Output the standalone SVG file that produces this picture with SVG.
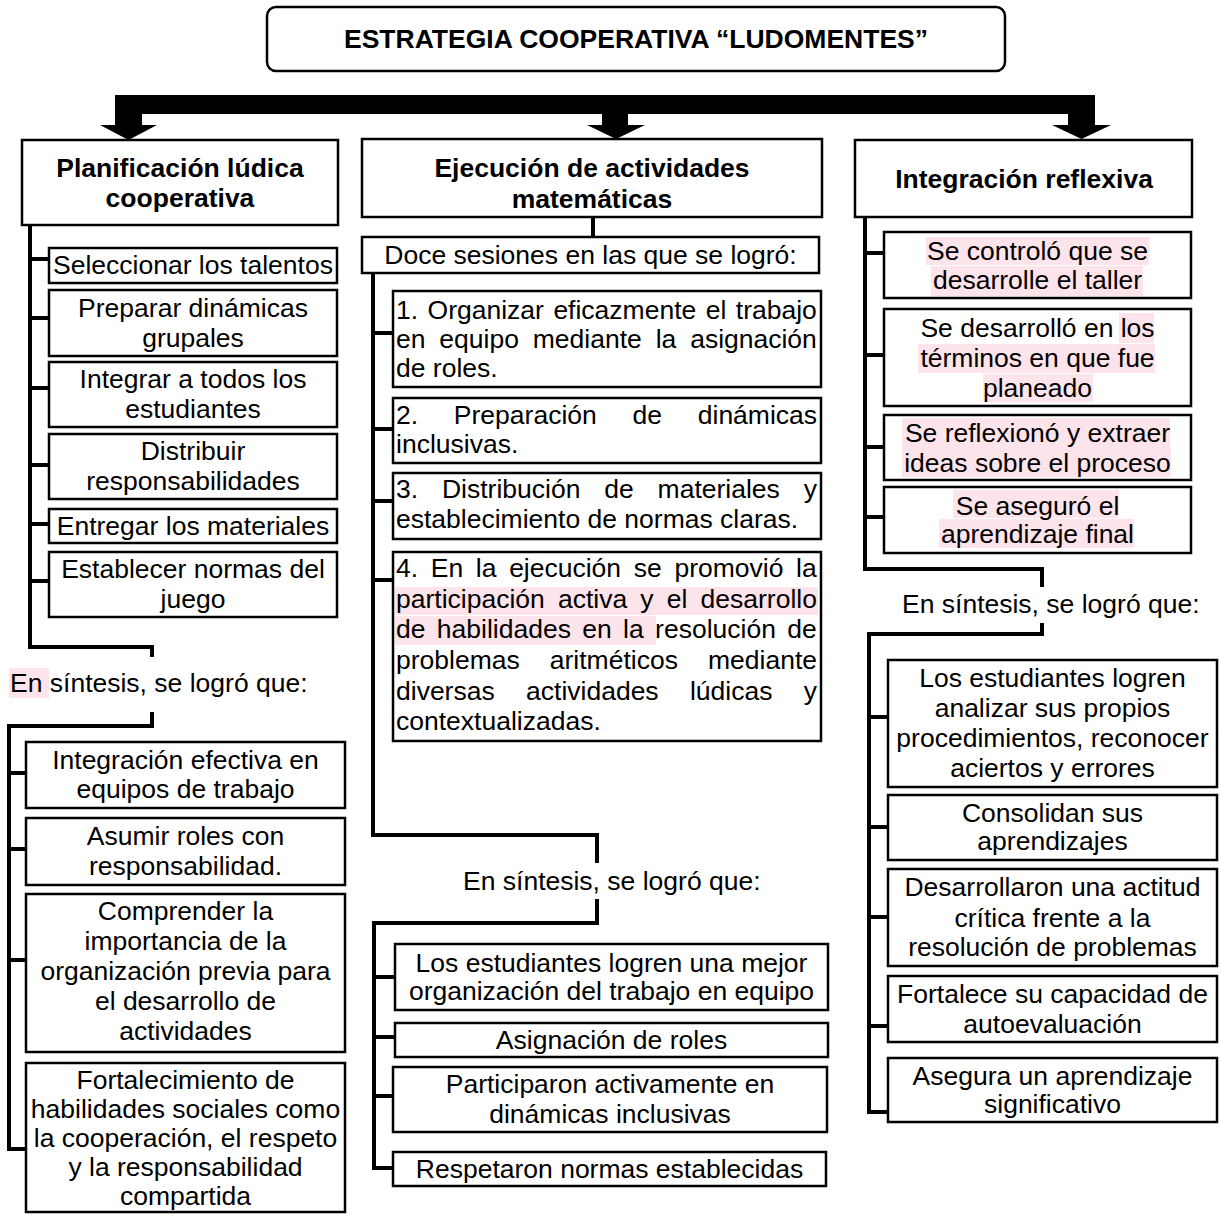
<svg xmlns="http://www.w3.org/2000/svg" width="1221" height="1214" viewBox="0 0 1221 1214">
<style>
.box{fill:#fff;stroke:#000;stroke-width:2.5}
.t{font-family:"Liberation Sans",Arial,Helvetica,sans-serif;font-size:26.5px;fill:#000}
.c{text-anchor:middle}
.b{font-weight:bold}
.ln{stroke:#000;stroke-width:4;fill:none;stroke-linejoin:miter}
.hl{fill:#fde3ea}
</style>
<rect x="0" y="0" width="1221" height="1214" fill="#fff"/>

<g id="connectors">
  <rect x="115" y="95" width="980" height="19" fill="#000"/>
  <rect x="115" y="95" width="27" height="31" fill="#000"/>
  <rect x="602" y="110" width="26" height="16" fill="#000"/>
  <rect x="1068" y="95" width="27" height="31" fill="#000"/>
  <polygon points="100,125 157,125 128.5,140" fill="#000"/>
  <polygon points="587,125 645,125 616,139" fill="#000"/>
  <polygon points="1052,125 1111,125 1081.5,139" fill="#000"/>
  <!-- column 1 -->
  <path class="ln" d="M30 225 V647 H152 V657"/>
  <path class="ln" d="M30 259 H49 M30 318 H49 M30 388 H49 M30 465 H49 M30 524 H49 M30 581 H49"/>
  <path class="ln" d="M152 712 V726 H9 V1149 H26"/>
  <path class="ln" d="M9 773 H26 M9 849 H26 M9 960 H26"/>
  <!-- column 2 -->
  <path class="ln" d="M593 217 V237"/>
  <path class="ln" d="M373 273 V835 H597 V863"/>
  <path class="ln" d="M373 333 H393 M373 429 H393 M373 501 H393 M373 580 H393"/>
  <path class="ln" d="M597 899 V923 H374 V1168 H393"/>
  <path class="ln" d="M374 977 H395 M374 1037 H395 M374 1096 H393"/>
  <!-- column 3 -->
  <path class="ln" d="M865 217 V569 H1042 V587"/>
  <path class="ln" d="M865 253 H884 M865 355 H884 M865 447 H884 M865 517 H884"/>
  <path class="ln" d="M1042 623 V634 H869 V1112 H888"/>
  <path class="ln" d="M869 717 H888 M869 827 H888 M869 917 H888 M869 1026 H888"/>
</g>

<g id="title">
  <rect class="box" x="267" y="7" width="738" height="64" rx="9"/>
  <text class="t c b" x="636" y="48">ESTRATEGIA COOPERATIVA “LUDOMENTES”</text>
</g>

<!-- Column 1 -->
<g id="planificacion">
  <rect class="box" x="22" y="140" width="316" height="85"/>
  <text class="t c b"><tspan x="180" y="177">Planificación lúdica</tspan><tspan x="180" y="207">cooperativa</tspan></text>
</g>
<g id="p1"><rect class="box" x="49" y="248" width="288" height="35"/><text class="t c" x="193" y="274">Seleccionar los talentos</text></g>
<g id="p2"><rect class="box" x="49" y="290" width="288" height="66"/><text class="t c"><tspan x="193" y="317">Preparar dinámicas</tspan><tspan x="193" y="347">grupales</tspan></text></g>
<g id="p3"><rect class="box" x="49" y="362" width="288" height="65"/><text class="t c"><tspan x="193" y="388">Integrar a todos los</tspan><tspan x="193" y="418">estudiantes</tspan></text></g>
<g id="p4"><rect class="box" x="49" y="434" width="288" height="65"/><text class="t c"><tspan x="193" y="460">Distribuir</tspan><tspan x="193" y="490">responsabilidades</tspan></text></g>
<g id="p5"><rect class="box" x="49" y="509" width="288" height="34"/><text class="t c" x="193" y="535">Entregar los materiales</text></g>
<g id="p6"><rect class="box" x="49" y="552" width="288" height="65"/><text class="t c"><tspan x="193" y="578">Establecer normas del</tspan><tspan x="193" y="608">juego</tspan></text></g>
<g id="sintesis1">
  <rect class="hl" x="9" y="668" width="40" height="30"/>
  <text class="t" x="10" y="692">En síntesis, se logró que:</text>
</g>
<g id="q1"><rect class="box" x="26" y="742" width="319" height="66"/><text class="t c"><tspan x="185.5" y="769">Integración efectiva en</tspan><tspan x="185.5" y="798">equipos de trabajo</tspan></text></g>
<g id="q2"><rect class="box" x="26" y="818" width="319" height="67"/><text class="t c"><tspan x="185.5" y="845">Asumir roles con</tspan><tspan x="185.5" y="875">responsabilidad.</tspan></text></g>
<g id="q3"><rect class="box" x="26" y="894" width="319" height="158"/><text class="t c"><tspan x="185.5" y="920">Comprender la</tspan><tspan x="185.5" y="950">importancia de la</tspan><tspan x="185.5" y="980">organización previa para</tspan><tspan x="185.5" y="1010">el desarrollo de</tspan><tspan x="185.5" y="1040">actividades</tspan></text></g>
<g id="q4"><rect class="box" x="26" y="1063" width="319" height="149"/><text class="t c"><tspan x="185.5" y="1089">Fortalecimiento de</tspan><tspan x="185.5" y="1118">habilidades sociales como</tspan><tspan x="185.5" y="1147">la cooperación, el respeto</tspan><tspan x="185.5" y="1176">y la responsabilidad</tspan><tspan x="185.5" y="1205">compartida</tspan></text></g>

<!-- Column 2 -->
<g id="ejecucion">
  <rect class="box" x="362" y="139" width="460" height="78"/>
  <text class="t c b"><tspan x="592" y="177">Ejecución de actividades</tspan><tspan x="592" y="208">matemáticas</tspan></text>
</g>
<g id="doce"><rect class="box" x="362" y="237" width="457" height="36"/><text class="t c" x="590.5" y="264">Doce sesiones en las que se logró:</text></g>
<g id="e1"><rect class="box" x="393" y="291" width="428" height="96"/>
  <text class="t" x="396" y="319" style="word-spacing:2.1px">1. Organizar eficazmente el trabajo</text>
  <text class="t" x="396" y="348" style="word-spacing:6.5px">en equipo mediante la asignación</text>
  <text class="t" x="396" y="377">de roles.</text>
</g>
<g id="e2"><rect class="box" x="393" y="398" width="428" height="65"/>
  <text class="t" x="396" y="424" style="word-spacing:28.4px">2. Preparación de dinámicas</text>
  <text class="t" x="396" y="453">inclusivas.</text>
</g>
<g id="e3"><rect class="box" x="393" y="473" width="428" height="66"/>
  <text class="t" x="396" y="498" style="word-spacing:16.5px">3. Distribución de materiales y</text>
  <text class="t" x="396" y="528">establecimiento de normas claras.</text>
</g>
<g id="e4"><rect class="box" x="393" y="552" width="428" height="189"/>
  <rect class="hl" x="395" y="587" width="423" height="28"/>
  <rect class="hl" x="395" y="616" width="261" height="29"/>
  <text class="t" x="396" y="577" style="word-spacing:5.3px">4. En la ejecución se promovió la</text>
  <text class="t" x="396" y="608" style="word-spacing:5.8px">participación activa y el desarrollo</text>
  <text class="t" x="396" y="638" style="word-spacing:4.0px">de habilidades en la resolución de</text>
  <text class="t" x="396" y="669" style="word-spacing:22.7px">problemas aritméticos mediante</text>
  <text class="t" x="396" y="700" style="word-spacing:24px">diversas actividades lúdicas y</text>
  <text class="t" x="396" y="730">contextualizadas.</text>
</g>
<g id="sintesis2"><text class="t" x="463" y="890">En síntesis, se logró que:</text></g>
<g id="f1"><rect class="box" x="395" y="944" width="433" height="66"/><text class="t c"><tspan x="611.5" y="972">Los estudiantes logren una mejor</tspan><tspan x="611.5" y="1000">organización del trabajo en equipo</tspan></text></g>
<g id="f2"><rect class="box" x="395" y="1023" width="433" height="34"/><text class="t c" x="611.5" y="1049">Asignación de roles</text></g>
<g id="f3"><rect class="box" x="393" y="1067" width="434" height="65"/><text class="t c"><tspan x="610" y="1093">Participaron activamente en</tspan><tspan x="610" y="1123">dinámicas inclusivas</tspan></text></g>
<g id="f4"><rect class="box" x="393" y="1152" width="433" height="34"/><text class="t c" x="609.5" y="1178">Respetaron normas establecidas</text></g>

<!-- Column 3 -->
<g id="integracion">
  <rect class="box" x="855" y="140" width="337" height="77"/>
  <text class="t c b" x="1024" y="188">Integración reflexiva</text>
</g>
<g id="i1"><rect class="box" x="884" y="232" width="307" height="66"/>
  <rect class="hl" x="926" y="237" width="223" height="28"/><rect class="hl" x="931" y="266" width="212" height="30"/>
  <text class="t c"><tspan x="1037.5" y="260">Se controló que se</tspan><tspan x="1037.5" y="289">desarrolle el taller</tspan></text></g>
<g id="i2"><rect class="box" x="884" y="309" width="307" height="97"/>
  <rect class="hl" x="1119" y="313" width="35" height="30"/><rect class="hl" x="918" y="344" width="237" height="29"/><rect class="hl" x="983" y="374" width="110" height="28"/>
  <text class="t c"><tspan x="1037.5" y="337">Se desarrolló en los</tspan><tspan x="1037.5" y="367">términos en que fue</tspan><tspan x="1037.5" y="397">planeado</tspan></text></g>
<g id="i3"><rect class="box" x="884" y="415" width="307" height="65"/>
  <rect class="hl" x="902" y="418" width="268" height="29"/><rect class="hl" x="902" y="447" width="269" height="30"/>
  <text class="t c"><tspan x="1037.5" y="442">Se reflexionó y extraer</tspan><tspan x="1037.5" y="472">ideas sobre el proceso</tspan></text></g>
<g id="i4"><rect class="box" x="884" y="487" width="307" height="66"/>
  <rect class="hl" x="953" y="490" width="166" height="28"/><rect class="hl" x="939" y="519" width="195" height="29"/>
  <text class="t c"><tspan x="1037.5" y="515">Se aseguró el</tspan><tspan x="1037.5" y="543">aprendizaje final</tspan></text></g>
<g id="sintesis3"><text class="t" x="902" y="613">En síntesis, se logró que:</text></g>
<g id="r1"><rect class="box" x="888" y="660" width="329" height="127"/><text class="t c"><tspan x="1052.5" y="687">Los estudiantes logren</tspan><tspan x="1052.5" y="717">analizar sus propios</tspan><tspan x="1052.5" y="747">procedimientos, reconocer</tspan><tspan x="1052.5" y="777">aciertos y errores</tspan></text></g>
<g id="r2"><rect class="box" x="888" y="795" width="329" height="65"/><text class="t c"><tspan x="1052.5" y="822">Consolidan sus</tspan><tspan x="1052.5" y="850">aprendizajes</tspan></text></g>
<g id="r3"><rect class="box" x="888" y="869" width="329" height="97"/><text class="t c"><tspan x="1052.5" y="896">Desarrollaron una actitud</tspan><tspan x="1052.5" y="927">crítica frente a la</tspan><tspan x="1052.5" y="956">resolución de problemas</tspan></text></g>
<g id="r4"><rect class="box" x="888" y="976" width="329" height="66"/><text class="t c"><tspan x="1052.5" y="1003">Fortalece su capacidad de</tspan><tspan x="1052.5" y="1033">autoevaluación</tspan></text></g>
<g id="r5"><rect class="box" x="888" y="1058" width="329" height="64"/><text class="t c"><tspan x="1052.5" y="1085">Asegura un aprendizaje</tspan><tspan x="1052.5" y="1113">significativo</tspan></text></g>
</svg>
